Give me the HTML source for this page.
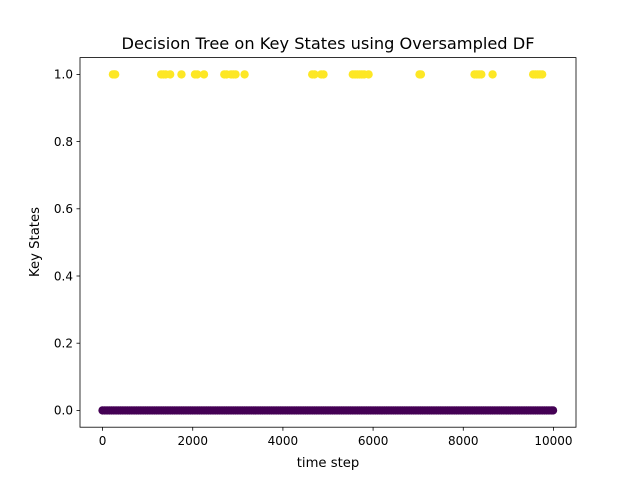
<!DOCTYPE html>
<html><head><meta charset="utf-8"><style>
body{margin:0;background:#fff;}
svg text{font-family:"DejaVu Sans","Liberation Sans",sans-serif;}
</style></head><body>
<svg id="chart" width="640" height="480" viewBox="0 0 640 480" xmlns="http://www.w3.org/2000/svg">
<rect x="0" y="0" width="640" height="480" fill="#fff"/>
<text x="328" y="49" font-size="16.2" text-anchor="middle">Decision Tree on Key States using Oversampled DF</text>
<g id="marks"></g>
<g id="axes"></g>
<text x="328" y="467" font-size="13.2" text-anchor="middle">time step</text>
<text x="0" y="0" font-size="13.2" text-anchor="middle" transform="translate(39,242) rotate(-90)">Key States</text>
</svg>
<script>
const xTicks = [0, 2000, 4000, 6000, 8000, 10000];
const yTicks = [0.0, 0.2, 0.4, 0.6, 0.8, 1.0];
const yTickLabels = ["0.0", "0.2", "0.4", "0.6", "0.8", "1.0"];
const class0X = [0,50,100,150,200,250,300,350,400,450,500,550,600,650,700,750,800,850,900,950,1000,1050,1100,1150,1200,1250,1300,1350,1400,1450,1500,1550,1600,1650,1700,1750,1800,1850,1900,1950,2000,2050,2100,2150,2200,2250,2300,2350,2400,2450,2500,2550,2600,2650,2700,2750,2800,2850,2900,2950,3000,3050,3100,3150,3200,3250,3300,3350,3400,3450,3500,3550,3600,3650,3700,3750,3800,3850,3900,3950,4000,4050,4100,4150,4200,4250,4300,4350,4400,4450,4500,4550,4600,4650,4700,4750,4800,4850,4900,4950,5000,5050,5100,5150,5200,5250,5300,5350,5400,5450,5500,5550,5600,5650,5700,5750,5800,5850,5900,5950,6000,6050,6100,6150,6200,6250,6300,6350,6400,6450,6500,6550,6600,6650,6700,6750,6800,6850,6900,6950,7000,7050,7100,7150,7200,7250,7300,7350,7400,7450,7500,7550,7600,7650,7700,7750,7800,7850,7900,7950,8000,8050,8100,8150,8200,8250,8300,8350,8400,8450,8500,8550,8600,8650,8700,8750,8800,8850,8900,8950,9000,9050,9100,9150,9200,9250,9300,9350,9400,9450,9500,9550,9600,9650,9700,9750,9800,9850,9900,9950,9990];
const class1X = [230,260,280,1300,1350,1400,1500,1750,2050,2100,2250,2700,2750,2850,2900,2950,3150,4650,4700,4850,4900,5550,5600,5650,5700,5750,5800,5900,7030,7060,8250,8300,8350,8400,8650,9550,9600,9650,9700,9750];
const class0Y = 0, class1Y = 1;

const L=80,R=576,T=57.6,B=427.2;
const xMin=-500,xMax=10500,yMin=-0.05,yMax=1.05;
const sx=v=>L+(v-xMin)/(xMax-xMin)*(R-L);
const sy=v=>B-(v-yMin)/(yMax-yMin)*(B-T);
const NS="http://www.w3.org/2000/svg";
const marks=document.getElementById('marks');
const axes=document.getElementById('axes');
function mk(tag,attrs,parent){const e=document.createElementNS(NS,tag);for(const k in attrs)e.setAttribute(k,attrs[k]);parent.appendChild(e);return e;}
class0X.forEach(x=>{
  const c=mk('circle',{cx:sx(x),cy:sy(class0Y),r:4.2,fill:'#440154'},marks);
  
  
});
class1X.forEach(x=>{
  const c=mk('circle',{cx:sx(x),cy:sy(class1Y),r:4.2,fill:'#fde725'},marks);
  
  
});
const frame=mk('rect',{x:L,y:T,width:R-L,height:B-T,fill:'none',stroke:'#000','stroke-width':0.8},axes);


xTicks.forEach(v=>{
  const x=sx(v);
  const t=mk('line',{x1:x,x2:x,y1:B,y2:B+3.5,stroke:'#000','stroke-width':0.8},axes);
  
  
  const l=mk('text',{x:x,y:B+18,'font-size':12,'text-anchor':'middle'},axes);
  l.textContent=String(v);
  
  
});
yTicks.forEach((v,i)=>{
  const y=sy(v);
  const t=mk('line',{x1:L-3.5,x2:L,y1:y,y2:y,stroke:'#000','stroke-width':0.8},axes);
  
  
  const l=mk('text',{x:L-7,y:y+4.3,'font-size':12,'text-anchor':'end'},axes);
  l.textContent=yTickLabels[i];
  
  
});
</script>
</body></html>
